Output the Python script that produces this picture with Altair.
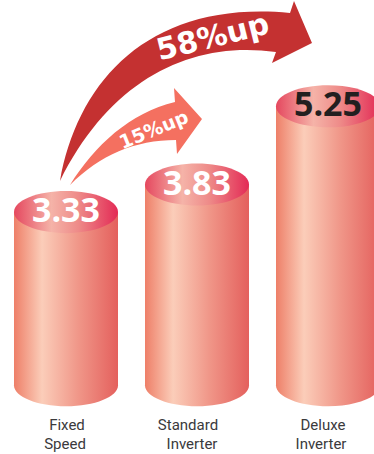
import altair as alt
import pandas as pd

# Series values and annotations
categories = ["Fixed Speed", "Standard Inverter", "Deluxe Inverter"]
values = [3.33, 3.83, 5.25]
value_colors = ["#ffffff", "#ffffff", "#231f20"]
category_lines = [["Fixed", "Speed"], ["Standard", "Inverter"], ["Deluxe", "Inverter"]]

W, H = 374, 454
X_RANGE = [66, 328]
BAR_W = 104
BASE = 0.19  # value sitting at the cylinders' lower rim
Y_DOMAIN = [-1.06, 7.18]


def gradient(stops):
    return alt.Gradient(
        gradient="linear", x1=0, x2=1, y1=0, y2=0,
        stops=[alt.GradientStop(offset=o, color=c) for o, c in stops],
    )


body_fill = gradient([(0, "#ee7f68"), (0.27, "#fbcdb9"), (0.62, "#f09688"), (1, "#e4605d")])
lid_fill = gradient([(0, "#e5485f"), (0.36, "#f5b3a8"), (0.62, "#ee8a88"), (1, "#e32a55")])

ELLIPSE = "M-1,0 A1,0.404 0 1,1 1,0 A1,0.404 0 1,1 -1,0 Z"

df = pd.DataFrame({"name": categories, "value": values, "base": [BASE] * 3, "color": value_colors})

x = alt.X("name:N", axis=None, sort=categories,
          scale=alt.Scale(type="point", domain=categories, range=X_RANGE, padding=0))
y_top = alt.Y("value:Q", axis=None, scale=alt.Scale(domain=Y_DOMAIN, nice=False, zero=False))
y_base = alt.Y("base:Q", axis=None, scale=alt.Scale(domain=Y_DOMAIN, nice=False, zero=False))

base = alt.Chart(df)
floor = base.mark_point(shape=ELLIPSE, size=BAR_W ** 2, filled=True, fill=body_fill,
                        opacity=1, strokeWidth=0).encode(x=x, y=y_base)
body = base.mark_bar(width=BAR_W, fill=body_fill).encode(x=x, y=y_top, y2="base:Q")
lid = base.mark_point(shape=ELLIPSE, size=BAR_W ** 2, filled=True, fill=lid_fill,
                      opacity=1, strokeWidth=0).encode(x=x, y=y_top)
numbers = base.mark_text(font="Open Sans", fontWeight="bold", fontSize=34, baseline="middle").encode(
    x=x, y=y_top, text=alt.Text("value:Q", format=".2f"),
    color=alt.Color("color:N", scale=None),
)


def to_unit(px_path):
    """Rescale a path drawn in canvas pixels to the -1..1 box of a custom symbol."""
    out = []
    for tok in px_path.split():
        if "," in tok:
            cmd = tok[0] if tok[0].isalpha() else ""
            px, py = tok.lstrip("MCLZ").split(",")
            out.append(f"{cmd}{(float(px) - W / 2) / (W / 2):.4f},{(float(py) - W / 2) / (W / 2):.4f}")
        else:
            out.append(tok)
    return " ".join(out)


big_arrow = ("M60,181 C78,80 150,0 290,13 L294,1 L312,43 L272,63 L276,52 "
             "C190,40 110,80 60,181 Z")
small_arrow = ("M70,185 C95,145 130,113 175,102 L174,88 L202,119 L177,154 L176,140 "
               "C135,140 100,155 70,185 Z")
one = alt.Data(values=[{"k": 0}])


def arrow(path, color):
    return alt.Chart(one).mark_point(shape=to_unit(path), size=W ** 2, filled=True, fill=color,
                                     opacity=1, strokeWidth=0).encode(
        x=alt.value(W / 2), y=alt.value(W / 2))


def caption(text, px, py, **kw):
    return alt.Chart(one).mark_text(text=text, **kw).encode(x=alt.value(px), y=alt.value(py))


arrow_text = dict(font="DejaVu Sans", fontWeight="bold", color="#ffffff", baseline="middle")
layers = [
    floor, body, lid, numbers,
    arrow(big_arrow, "#c43131"),
    arrow(small_arrow, "#f47060"),
    caption("58%up", 213, 38, angle=346, fontSize=30, **arrow_text),
    caption("15%up", 154, 130, angle=338, fontSize=19, **arrow_text),
]

label_x = [[67, 65], [188, 192], [323, 321]]
label_y = [425, 444]
for lines, xs in zip(category_lines, label_x):
    for line, px, py in zip(lines, xs, label_y):
        layers.append(caption(line, px, py, font="Roboto", fontSize=15,
                              color="#3a3a3c", baseline="middle"))

chart = alt.layer(*layers).properties(
    width=W, height=H, padding=0,
    autosize=alt.AutoSizeParams(type="none"),
    background="#ffffff",
).configure_view(stroke=None)

chart.save("out.html", embed_options={"renderer": "svg", "actions": False})
